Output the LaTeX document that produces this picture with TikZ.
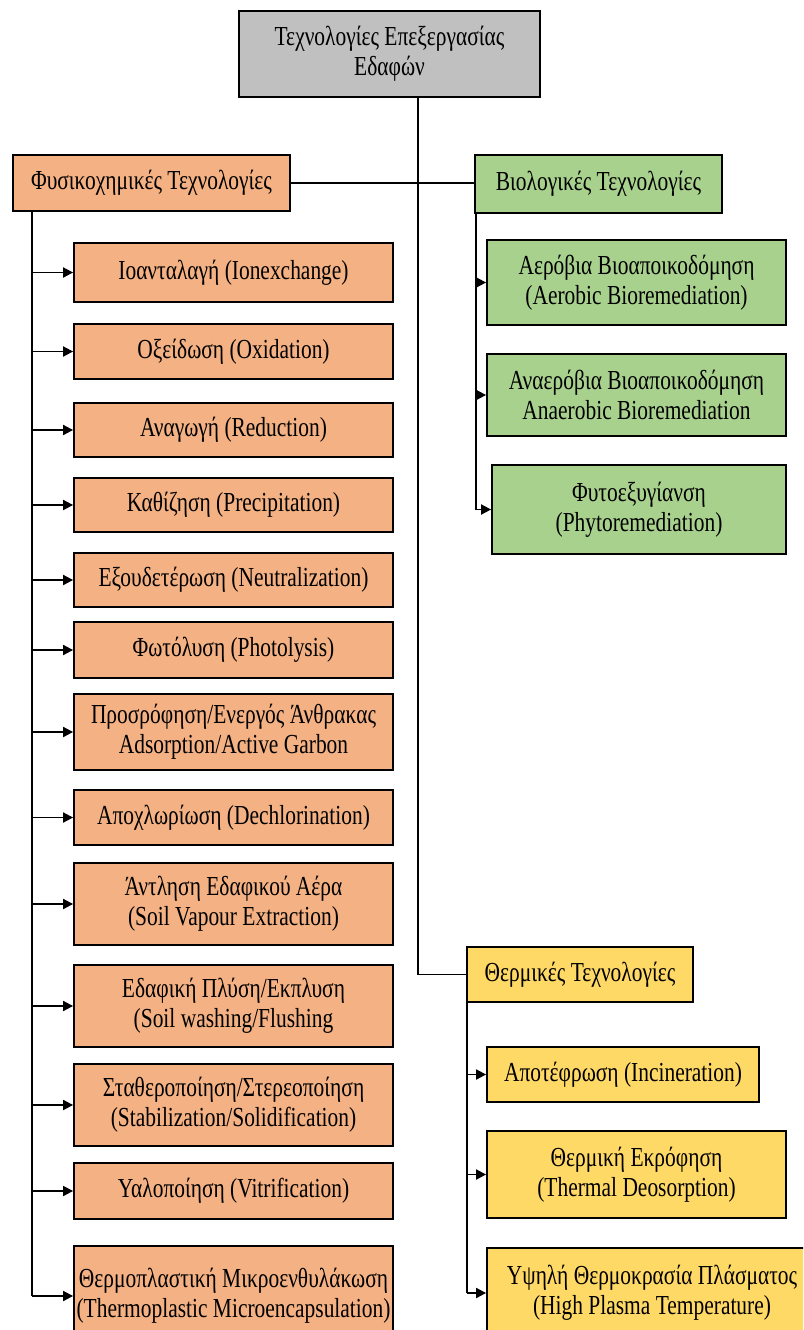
\documentclass[tikz,border=0pt]{standalone}
\usepackage{fontspec}
\setmainfont{Liberation Serif}[FakeStretch=0.78]
\usetikzlibrary{arrows.meta}

\definecolor{rootgray}{HTML}{C0C0C0}
\definecolor{physorange}{HTML}{F4B183}
\definecolor{biogreen}{HTML}{A9D18E}
\definecolor{thermyellow}{HTML}{FFD966}

\tikzset{
  box/.style={draw=black, line width=1.8pt, align=center, inner sep=0pt,
    font=\fontsize{27.5}{30}\selectfont},
  rootbox/.style={box, fill=rootgray},
  physbox/.style={box, fill=physorange},
  biobox/.style={box, fill=biogreen},
  thermbox/.style={box, fill=thermyellow},
  link/.style={line width=1.8pt, black},
  arr/.style={link, -{Triangle[length=10pt,width=10pt]}},
}

\begin{document}
\begin{tikzpicture}[x=1pt,y=-1pt]
\useasboundingbox (0,0) rectangle (803,1330);
\clip (0,0) rectangle (803,1330);

% headers
\node[rootbox, minimum width=301, minimum height=86] (root) at (389.5,54)
  {Τεχνολογίες Επεξεργασίας\\Εδαφών};
\node[physbox, minimum width=277, minimum height=56] (phys) at (151.5,183)
  {Φυσικοχημικές Τεχνολογίες};
\node[biobox, minimum width=247, minimum height=58] (bio) at (598.5,184)
  {Βιολογικές Τεχνολογίες};
\node[thermbox, minimum width=226, minimum height=55] (therm) at (580,974.5)
  {Θερμικές Τεχνολογίες};

% physicochemical methods
\node[physbox, minimum width=319, minimum height=59] (ion)   at (233.5,272.5) {Ιοανταλαγή (Ionexchange)};
\node[physbox, minimum width=319, minimum height=55] (oxi)   at (233.5,351.5) {Οξείδωση (Oxidation)};
\node[physbox, minimum width=319, minimum height=54] (red)   at (233.5,430)   {Αναγωγή (Reduction)};
\node[physbox, minimum width=319, minimum height=54] (prec)  at (233.5,505)   {Καθίζηση (Precipitation)};
\node[physbox, minimum width=319, minimum height=54] (neut)  at (233.5,580)   {Εξουδετέρωση (Neutralization)};
\node[physbox, minimum width=319, minimum height=56] (photo) at (233.5,650)   {Φωτόλυση (Photolysis)};
\node[physbox, minimum width=319, minimum height=76] (ads)   at (233.5,732)   {Προσρόφηση/Ενεργός Άνθρακας\\Adsorption/Active Garbon};
\node[physbox, minimum width=319, minimum height=55] (dechl) at (233.5,817.5) {Αποχλωρίωση (Dechlorination)};
\node[physbox, minimum width=319, minimum height=82] (sve)   at (233.5,904)   {Άντληση Εδαφικού Αέρα\\(Soil Vapour Extraction)};
\node[physbox, minimum width=319, minimum height=82] (wash)  at (233.5,1006)  {Εδαφική Πλύση/Εκπλυση\\(Soil washing/Flushing};
\node[physbox, minimum width=319, minimum height=82] (stab)  at (233.5,1105)  {Σταθεροποίηση/Στερεοποίηση\\(Stabilization/Solidification)};
\node[physbox, minimum width=319, minimum height=56] (vitr)  at (233.5,1191)  {Υαλοποίηση (Vitrification)};
\node[physbox, minimum width=319, minimum height=100] (tpm)  at (233.5,1296)  {Θερμοπλαστική Μικροενθυλάκωση\\(Thermoplastic Microencapsulation)};

% biological methods
\node[biobox, minimum width=299, minimum height=85] (aer)   at (636.5,282.5) {Αερόβια Βιοαποικοδόμηση\\(Aerobic Bioremediation)};
\node[biobox, minimum width=299, minimum height=82] (anaer) at (636.5,395)   {Αναερόβια Βιοαποικοδόμηση\\Anaerobic Bioremediation};
\node[biobox, minimum width=294, minimum height=89] (phyto) at (639,509.5)   {Φυτοεξυγίανση\\(Phytoremediation)};

% thermal methods
\node[thermbox, minimum width=272, minimum height=55] (inc)    at (623,1074.5) {Αποτέφρωση (Incineration)};
\node[thermbox, minimum width=299, minimum height=87] (desorp) at (636.5,1174.5) {Θερμική Εκρόφηση\\(Thermal Deosorption)};
\node[thermbox, minimum width=330, minimum height=90] (plasma) at (652,1293) {Υψηλή Θερμοκρασία Πλάσματος\\(High Plasma Temperature)};

% trunk anchor points
\coordinate (ptrunk) at (32,0);
\coordinate (btrunk) at (476,0);
\coordinate (ttrunk) at (467,0);
\coordinate (rtrunk) at (418,0);

% main tree
\draw[link] (root.south -| rtrunk) |- (therm.west);
\draw[link] (phys.east) -- (bio.west |- phys.east);

% physicochemical branch
\draw[link] (phys.south -| ptrunk) -- (tpm.west -| ptrunk);
\foreach \n in {ion,oxi,red,prec,neut,photo,ads,dechl,sve,wash,stab,vitr,tpm}
  \draw[arr] (\n.west -| ptrunk) -- (\n.west);

% biological branch
\draw[link] (bio.south -| btrunk) -- (phyto.west -| btrunk);
\foreach \n in {aer,anaer,phyto}
  \draw[arr] (\n.west -| btrunk) -- (\n.west);

% thermal branch
\draw[link] (therm.south -| ttrunk) -- (plasma.west -| ttrunk);
\foreach \n in {inc,desorp,plasma}
  \draw[arr] (\n.west -| ttrunk) -- (\n.west);
\end{tikzpicture}
\end{document}
